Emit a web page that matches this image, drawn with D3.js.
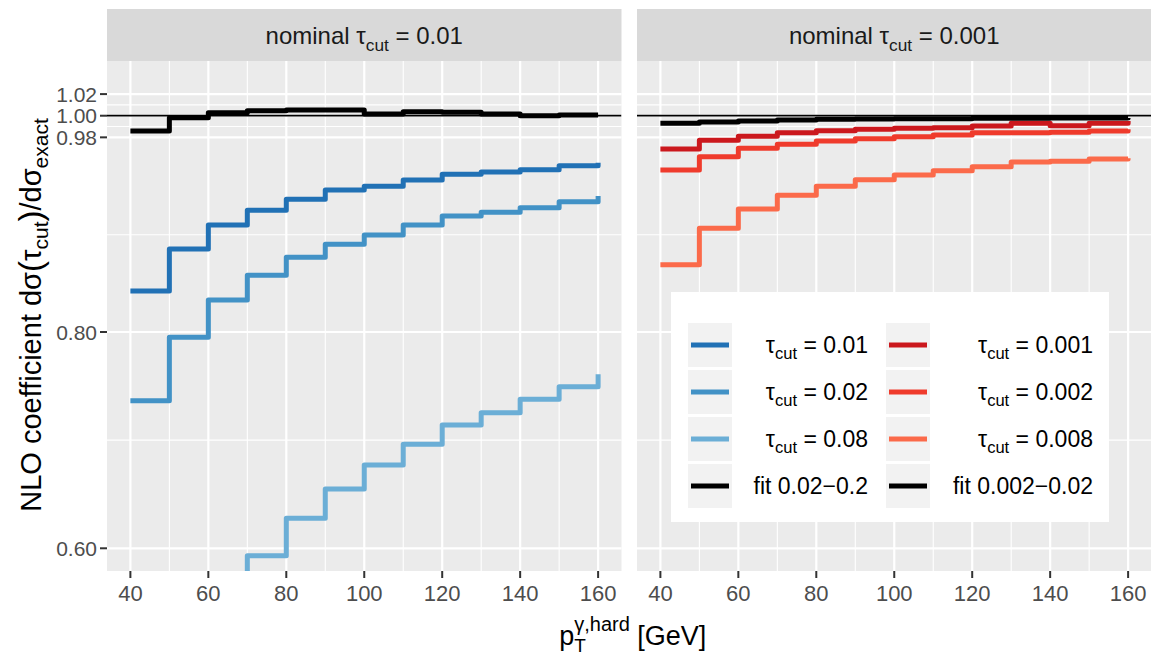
<!DOCTYPE html>
<html>
<head>
<meta charset="utf-8">
<script src="https://cdn.jsdelivr.net/npm/d3@7"></script>
<style>
  body { margin: 0; background: #fff; }
  svg { display: block; }
  text { font-family: "Liberation Sans", Arial, Helvetica, sans-serif; }
</style>
</head>
<body>
<svg id="chart" width="1151" height="655"></svg>
<script>
// ---------- data ----------
const ptValues = [40, 50, 60, 70, 80, 90, 100, 110, 120, 130, 140, 150, 160];

// panel "nominal tau_cut = 0.01"
const tau0p01 = [0.8379, 0.8767, 0.8989, 0.9125, 0.9227, 0.9313, 0.9347, 0.9405, 0.9458, 0.9479, 0.9501, 0.9538, 0.9565];
const tau0p02 = [0.7365, 0.7951, 0.8296, 0.8524, 0.8691, 0.8811, 0.8897, 0.8989, 0.9073, 0.9107, 0.9149, 0.9205, 0.9258];
const tau0p08 = [0.44, 0.50, 0.55, 0.5932, 0.6277, 0.6548, 0.6770, 0.6962, 0.7140, 0.7254, 0.7378, 0.7494, 0.7609];
const fit0p02to0p2 = [0.9858, 0.9981, 1.0028, 1.0046, 1.0053, 1.0053, 1.0016, 1.0037, 1.0031, 1.0016, 1.0000, 1.0006, 1.0006];

// panel "nominal tau_cut = 0.001"
const tau0p001 = [0.9692, 0.9773, 0.9810, 0.9843, 0.9861, 0.9874, 0.9883, 0.9889, 0.9905, 0.9930, 0.9908, 0.9930, 0.9951];
const tau0p002 = [0.9498, 0.9621, 0.9699, 0.9736, 0.9766, 0.9787, 0.9806, 0.9822, 0.9843, 0.9843, 0.9847, 0.9859, 0.9874];
const tau0p008 = [0.8622, 0.8959, 0.9137, 0.9264, 0.9347, 0.9408, 0.9452, 0.9491, 0.9528, 0.9572, 0.9578, 0.9600, 0.9606];
const fit0p002to0p02 = [0.9930, 0.9942, 0.9951, 0.9960, 0.9967, 0.9970, 0.9972, 0.9972, 0.9976, 0.9976, 0.9978, 0.9978, 0.9979];

const panelNominal = ["0.01", "0.001"];
const xTicks = [40, 60, 80, 100, 120, 140, 160];
const xMinor = [50, 70, 90, 110, 130, 150];
const yTicks = [0.60, 0.80, 0.98, 1.00, 1.02];
const yTickLabels = ["0.60", "0.80", "0.98", "1.00", "1.02"];
const yMinor = [0.70, 0.89, 0.99, 1.01];
const referenceLine = 1.0;

const seriesNames = ["0.01", "0.02", "0.08", "fit 0.02\u22120.2", "0.001", "0.002", "0.008", "fit 0.002\u22120.02"];
const seriesColors = ["#2171B5", "#4292C6", "#6BAED6", "#000000", "#CB181D", "#EF3B2C", "#FB6A4A", "#000000"];

const panels = [
  { nominal: panelNominal[0], series: [
    { name: seriesNames[0], values: tau0p01, color: seriesColors[0] },
    { name: seriesNames[1], values: tau0p02, color: seriesColors[1] },
    { name: seriesNames[2], values: tau0p08, color: seriesColors[2] },
    { name: seriesNames[3], values: fit0p02to0p2, color: seriesColors[3] } ] },
  { nominal: panelNominal[1], series: [
    { name: seriesNames[4], values: tau0p001, color: seriesColors[4] },
    { name: seriesNames[5], values: tau0p002, color: seriesColors[5] },
    { name: seriesNames[6], values: tau0p008, color: seriesColors[6] },
    { name: seriesNames[7], values: fit0p002to0p02, color: seriesColors[7] } ] }
];

// ---------- layout ----------
const svg = d3.select("#chart");
svg.append("rect").attr("width", 1151).attr("height", 655).attr("fill", "#fff");

const panelTop = 61, panelBottom = 571;
const panelW = 514.5;
const panelLefts = [107, 637];
const stripTop = 9;

const y = d3.scaleLinear().domain([0.579, 1.0506]).range([panelBottom, panelTop]);

function tauCut(textSel, fs, prefix, suffix) {
  textSel.append("tspan").text(prefix + "\u03C4");
  textSel.append("tspan").attr("font-size", fs * 0.72).attr("dy", fs * 0.28).text("cut");
  textSel.append("tspan").attr("dy", -fs * 0.28).text(" = " + suffix);
}

panels.forEach((p, i) => {
  const x0 = panelLefts[i];
  const x = d3.scaleLinear().domain([34, 166]).range([x0, x0 + panelW]);
  const g = svg.append("g");

  // strip
  g.append("rect").attr("x", x0).attr("y", stripTop).attr("width", panelW).attr("height", panelTop - stripTop).attr("fill", "#D9D9D9");
  const st = g.append("text").attr("x", x0 + panelW / 2).attr("y", 44).attr("text-anchor", "middle")
    .attr("font-size", 24).attr("fill", "#1A1A1A");
  tauCut(st, 24, "nominal ", p.nominal);

  // panel background
  g.append("rect").attr("x", x0).attr("y", panelTop).attr("width", panelW).attr("height", panelBottom - panelTop).attr("fill", "#EBEBEB");

  // grid
  g.selectAll(".ymin").data(yMinor).enter().append("line")
    .attr("x1", x0).attr("x2", x0 + panelW).attr("y1", d => y(d)).attr("y2", d => y(d))
    .attr("stroke", "#fff").attr("stroke-width", 1.1);
  g.selectAll(".xmin").data(xMinor).enter().append("line")
    .attr("x1", d => x(d)).attr("x2", d => x(d)).attr("y1", panelTop).attr("y2", panelBottom)
    .attr("stroke", "#fff").attr("stroke-width", 1.1);
  g.selectAll(".ymaj").data(yTicks).enter().append("line")
    .attr("x1", x0).attr("x2", x0 + panelW).attr("y1", d => y(d)).attr("y2", d => y(d))
    .attr("stroke", "#fff").attr("stroke-width", 2.2);
  g.selectAll(".xmaj").data(xTicks).enter().append("line")
    .attr("x1", d => x(d)).attr("x2", d => x(d)).attr("y1", panelTop).attr("y2", panelBottom)
    .attr("stroke", "#fff").attr("stroke-width", 2.2);

  // clip
  const cid = "clip" + i;
  svg.append("clipPath").attr("id", cid).append("rect")
    .attr("x", x0).attr("y", panelTop).attr("width", panelW).attr("height", panelBottom - panelTop);
  const plot = g.append("g").attr("clip-path", `url(#${cid})`);

  // reference line
  plot.append("line").attr("x1", x0).attr("x2", x0 + panelW)
    .attr("y1", y(referenceLine)).attr("y2", y(referenceLine))
    .attr("stroke", "#000").attr("stroke-width", 1.8);

  const line = d3.line().x((d, k) => x(ptValues[k])).y(d => y(d)).curve(d3.curveStepAfter);
  p.series.forEach(s => {
    plot.append("path").attr("d", line(s.values)).attr("fill", "none")
      .attr("stroke", s.color).attr("stroke-width", 5).attr("stroke-linejoin", "round").attr("stroke-linecap", "butt");
  });

  // x axis
  const xa = g.append("g");
  xTicks.forEach(t => {
    xa.append("line").attr("x1", x(t)).attr("x2", x(t)).attr("y1", panelBottom).attr("y2", panelBottom + 7)
      .attr("stroke", "#333").attr("stroke-width", 2);
    xa.append("text").attr("x", x(t)).attr("y", 601).attr("text-anchor", "middle")
      .attr("font-size", 22).attr("fill", "#4D4D4D").text(t);
  });

  // y axis (left panel only)
  if (i === 0) {
    const ya = g.append("g");
    yTicks.forEach((t, k) => {
      ya.append("line").attr("x1", x0 - 7).attr("x2", x0).attr("y1", y(t)).attr("y2", y(t))
        .attr("stroke", "#333").attr("stroke-width", 2);
      ya.append("text").attr("x", x0 - 10).attr("y", y(t) + 7.5).attr("text-anchor", "end")
        .attr("font-size", 21).attr("fill", "#4D4D4D").text(yTickLabels[k]);
    });
  }
});

// ---------- legend ----------
const lg = svg.append("g");
lg.append("rect").attr("x", 671).attr("y", 292).attr("width", 438).attr("height", 230).attr("fill", "#fff");
const legendCols = [{ keyX: 688, labelX: 868 }, { keyX: 886, labelX: 1093 }];
panels.forEach((p, c) => {
  p.series.forEach((s, r) => {
    const ky = 323 + r * 47;
    const col = legendCols[c];
    lg.append("rect").attr("x", col.keyX).attr("y", ky).attr("width", 44).attr("height", 44).attr("fill", "#F2F2F2");
    lg.append("line").attr("x1", col.keyX + 3).attr("x2", col.keyX + 41).attr("y1", ky + 22).attr("y2", ky + 22)
      .attr("stroke", s.color).attr("stroke-width", 5);
    const t = lg.append("text").attr("x", col.labelX).attr("y", ky + 30).attr("text-anchor", "end")
      .attr("font-size", 23).attr("fill", "#000");
    if (s.name.startsWith("fit")) t.text(s.name);
    else tauCut(t, 23, "", s.name);
  });
});

// ---------- axis titles ----------
// y title
const yt = svg.append("text").attr("transform", "translate(41,315) rotate(-90)")
  .attr("text-anchor", "middle").attr("font-size", 29).attr("fill", "#000");
yt.append("tspan").text("NLO coefficient d\u03C3");
yt.append("tspan").attr("font-size", 33).attr("dy", 1).text("(");
yt.append("tspan").attr("dy", -1).text("\u03C4");
yt.append("tspan").attr("font-size", 21).attr("dy", 7).text("cut");
yt.append("tspan").attr("font-size", 33).attr("dy", -6).text(")");
yt.append("tspan").attr("dy", -1).text("/d\u03C3");
yt.append("tspan").attr("font-size", 21).attr("dy", 7).text("exact");

// x title
const xt = svg.append("g");
const base = 645;
const tp = xt.append("text").attr("font-size", 27).attr("y", base).text("p");
const tsub = xt.append("text").attr("font-size", 19).attr("y", base + 7).text("T");
const tsup = xt.append("text").attr("font-size", 20).attr("y", base - 14).text("\u03B3,hard");
const trest = xt.append("text").attr("font-size", 27).attr("y", base).text(" [GeV]");
const wp = tp.node().getComputedTextLength();
const wsub = tsub.node().getComputedTextLength();
const wsup = tsup.node().getComputedTextLength();
const wrest = trest.node().getComputedTextLength();
const total = wp + Math.max(wsub, wsup) + wrest;
const startX = 629 - total / 2;
tp.attr("x", startX);
tsub.attr("x", startX + wp);
tsup.attr("x", startX + wp);
trest.attr("x", startX + wp + Math.max(wsub, wsup)).attr("xml:space", "preserve");
</script>
</body>
</html>
